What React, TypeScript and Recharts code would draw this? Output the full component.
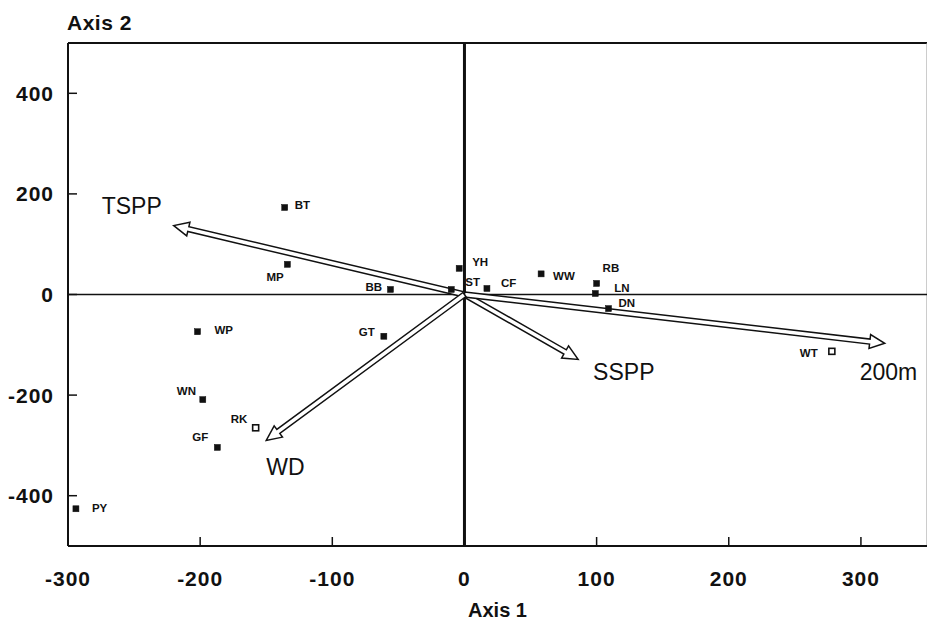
import { ScatterChart, Scatter, XAxis, YAxis, ReferenceLine } from 'recharts';

// site scores (CCA biplot)
const sites = ['BT', 'MP', 'BB', 'ST', 'YH', 'CF', 'WW', 'RB', 'LN', 'DN', 'WT', 'WP', 'GT', 'WN', 'RK', 'GF', 'PY'];
const axis1 = [-136, -134, -56, -10, -4, 17, 58, 100, 99, 109, 278, -202, -61, -198, -158, -187, -294];
const axis2 = [173, 60, 10, 10, 52, 12, 41, 22, 2, -28, -113, -74, -83, -209, -265, -304, -426];
const hollowSites = ['RK', 'WT'];

// environmental vectors
const vectors = ['TSPP', 'SSPP', '200m', 'WD'];
const vectorAxis1 = [-220, 86, 318, -150];
const vectorAxis2 = [137, -129, -97, -290];

const xTicks = [-300, -200, -100, 0, 100, 200, 300];
const yTicks = [-400, -200, 0, 200, 400];

// label placement, pixels from the mark
const siteLabelOffset: Record<string, [number, number]> = {
  BT: [10, -2], MP: [-21, 13], BB: [-25, -2], ST: [14, -7], YH: [13, -6],
  CF: [14, -5], WW: [12, 2], RB: [6, -15], LN: [19, -5], DN: [10, -6],
  WT: [-32, 2], WP: [17, -2], GT: [-25, -4], WN: [-26, -9], RK: [-25, -9],
  GF: [-25, -10], PY: [16, -1],
};
const vectorLabelOffset: Record<string, [number, number]> = {
  TSPP: [-72, -20], SSPP: [15, 13], '200m': [-25, 29], WD: [0, 27],
};

const FONT = '"Liberation Sans", Arial, Helvetica, sans-serif';
const INK = '#111';

const data = sites.map((site, i) => ({ site, x: axis1[i], y: axis2[i] }));

function SiteMarker(props: any) {
  const { cx, cy, payload } = props;
  const [dx, dy] = siteLabelOffset[payload.site] ?? [8, 0];
  const hollow = hollowSites.includes(payload.site);
  return (
    <g>
      <rect
        x={cx - 3}
        y={cy - 3}
        width={6}
        height={6}
        fill={hollow ? '#fff' : INK}
        stroke={INK}
        strokeWidth={hollow ? 1.6 : 0.5}
      />
      <text
        x={cx + dx}
        y={cy + dy}
        dominantBaseline="central"
        fontFamily={FONT}
        fontSize={11.5}
        fontWeight="bold"
        fill={INK}
      >
        {payload.site}
      </text>
    </g>
  );
}

function Arrow(props: any) {
  const { x1, y1, x2, y2, name } = props;
  const L = Math.hypot(x2 - x1, y2 - y1);
  const ux = (x2 - x1) / L;
  const uy = (y2 - y1) / L;
  const nx = -uy;
  const ny = ux;
  const w = 2.5;
  const hw = 7;
  const hl = 15;
  const p = (a: number, b: number) => `${x1 + ux * a + nx * b},${y1 + uy * a + ny * b}`;
  const pts = [p(0, -w), p(L - hl, -w), p(L - hl, -hw), p(L, 0), p(L - hl, hw), p(L - hl, w), p(0, w)].join(' ');
  const [dx, dy] = vectorLabelOffset[name] ?? [0, 0];
  return (
    <g>
      <polygon points={pts} fill="#fff" stroke={INK} strokeWidth={1.5} strokeLinejoin="miter" />
      <text x={x2 + dx} y={y2 + dy} dominantBaseline="central" fontFamily={FONT} fontSize={23} fill={INK}>
        {name}
      </text>
    </g>
  );
}

function XTick({ x, y, payload }: any) {
  return (
    <g>
      <line x1={x} y1={y} x2={x} y2={y - 9} stroke={INK} strokeWidth={1.5} />
      <text
        x={x}
        y={y + 32}
        textAnchor="middle"
        dominantBaseline="central"
        fontFamily={FONT}
        fontSize={21}
        fontWeight="bold"
        letterSpacing={1}
        fill={INK}
      >
        {payload.value}
      </text>
    </g>
  );
}

function YTick({ x, y, payload }: any) {
  return (
    <g>
      <line x1={x} y1={y} x2={x + 9} y2={y} stroke={INK} strokeWidth={1.5} />
      <text
        x={x - 14}
        y={y}
        textAnchor="end"
        dominantBaseline="central"
        fontFamily={FONT}
        fontSize={21}
        fontWeight="bold"
        letterSpacing={1}
        fill={INK}
      >
        {payload.value}
      </text>
    </g>
  );
}

export default function App() {
  return (
    <div style={{ position: 'absolute', left: 0, top: 0, width: 927, height: 624, background: '#fff', overflow: 'hidden' }}>
      <ScatterChart width={927} height={624} margin={{ top: 43, right: 0, bottom: 0, left: 0 }}>
        <XAxis
          type="number"
          dataKey="x"
          domain={[-300, 350]}
          ticks={xTicks}
          interval={0}
          allowDataOverflow
          height={78}
          tickSize={0}
          tickMargin={0}
          tickLine={false}
          axisLine={{ stroke: INK, strokeWidth: 2 }}
          tick={<XTick />}
          label={{
            content: ({ viewBox }: any) => (
              <text
                x={viewBox.x + viewBox.width / 2}
                y={viewBox.y + 64}
                textAnchor="middle"
                dominantBaseline="central"
                fontFamily={FONT}
                fontSize={20}
                fontWeight="bold"
                fill={INK}
              >
                Axis 1
              </text>
            ),
          }}
        />
        <YAxis
          type="number"
          dataKey="y"
          domain={[-500, 500]}
          ticks={yTicks}
          interval={0}
          allowDataOverflow
          width={68}
          tickSize={0}
          tickMargin={0}
          tickLine={false}
          axisLine={{ stroke: INK, strokeWidth: 2 }}
          tick={<YTick />}
          label={{
            content: ({ viewBox }: any) => (
              <text
                x={viewBox.x + viewBox.width - 1}
                y={viewBox.y - 21}
                dominantBaseline="central"
                fontFamily={FONT}
                fontSize={21}
                fontWeight="bold"
                letterSpacing={0.5}
                fill={INK}
              >
                Axis 2
              </text>
            ),
          }}
        />
        <ReferenceLine y={500} stroke={INK} strokeWidth={2} />
        <ReferenceLine x={350} stroke="#999" strokeWidth={1} />
        <ReferenceLine y={0} stroke={INK} strokeWidth={1.5} />
        <ReferenceLine x={0} stroke={INK} strokeWidth={3} />
        {vectors.map((name, i) => (
          <ReferenceLine
            key={name}
            segment={[
              { x: 0, y: 0 },
              { x: vectorAxis1[i], y: vectorAxis2[i] },
            ]}
            shape={(p: any) => <Arrow {...p} name={name} />}
          />
        ))}
        <Scatter data={data} shape={<SiteMarker />} isAnimationActive={false} />
      </ScatterChart>
    </div>
  );
}
